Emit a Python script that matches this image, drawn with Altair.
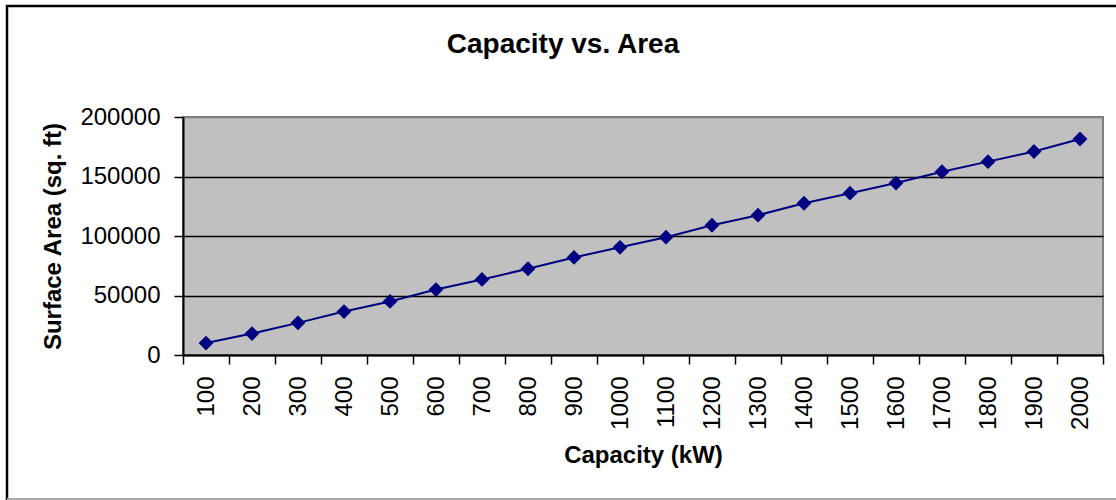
import altair as alt
import pandas as pd

# Plant capacity (kW) against required surface area (sq. ft)
capacity = [100, 200, 300, 400, 500, 600, 700, 800, 900, 1000,
            1100, 1200, 1300, 1400, 1500, 1600, 1700, 1800, 1900, 2000]
area = [10000, 18000, 27000, 36500, 45000, 55000, 63500, 72500, 82000, 90500,
        99000, 109000, 117500, 127500, 136000, 144500, 154000, 162500, 171000, 181500]
y_ticks = [0, 50000, 100000, 150000, 200000]

df = pd.DataFrame({"capacity": capacity, "area": area})

FONT = "Liberation Sans"
NAVY = "#000080"

x_enc = alt.X(
    "capacity:O",
    title="Capacity (kW)",
    bandPosition=0.5,
    scale=alt.Scale(type="band", paddingInner=0, paddingOuter=0),
    axis=alt.Axis(
        tickBand="extent",
        labelAngle=270,
        labelFont=FONT,
        labelFontSize=24,
        labelColor="black",
        labelPadding=12,
        tickColor="black",
        tickSize=9,
        tickWidth=1.5,
        domainColor="black",
        domainWidth=2,
        titleFont=FONT,
        titleFontSize=24,
        titleFontWeight="bold",
        titleColor="black",
        titlePadding=14,
        grid=False,
    ),
)

y_enc = alt.Y(
    "area:Q",
    title="Surface Area (sq. ft)",
    scale=alt.Scale(domain=[0, 200000], nice=False),
    axis=alt.Axis(
        values=y_ticks,
        format="d",
        labelFont=FONT,
        labelFontSize=24,
        labelColor="black",
        labelPadding=14,
        tickColor="black",
        tickSize=9,
        tickWidth=1.5,
        domainColor="black",
        domainWidth=2,
        grid=True,
        gridColor=alt.condition(
            "datum.value >= 200000", alt.value("#808080"), alt.value("black")
        ),
        gridWidth=1.5,
        titleFont=FONT,
        titleFontSize=24,
        titleFontWeight="bold",
        titleColor="black",
        titlePadding=14,
    ),
)

series = alt.Chart(df).mark_line(
    color=NAVY,
    strokeWidth=2,
    point=alt.OverlayMarkDef(shape="diamond", size=220, filled=True, color=NAVY),
).encode(x=x_enc, y=y_enc)

# Outer chart frame and its lower edge
frame_src = pd.DataFrame({"k": [0]})
frame = alt.Chart(frame_src).mark_rect(
    fill="white", fillOpacity=0, stroke="black", strokeWidth=2.5
).encode(
    x=alt.value(-176), x2=alt.value(950), y=alt.value(-111), y2=alt.value(400)
)
bottom_edge = alt.Chart(frame_src).mark_rule(color="#a8a8a8", strokeWidth=2).encode(
    x=alt.value(-176), x2=alt.value(940), y=alt.value(382)
)

chart = (
    alt.layer(frame, bottom_edge, series)
    .properties(
        width=920,
        height=238,
        autosize=alt.AutoSizeParams(type="none"),
        padding={"left": 183, "top": 117, "right": 13, "bottom": 145},
        background="white",
        title=alt.TitleParams(
            "Capacity vs. Area",
            font=FONT,
            fontSize=28,
            fontWeight="bold",
            color="black",
            anchor="middle",
            frame="group",
            baseline="alphabetic",
            dx=-80,
            offset=-76,
        ),
    )
    .configure_view(fill="#C0C0C0", stroke="#808080", strokeWidth=2)
)

chart.save("out.html", embed_options={"renderer": "svg", "actions": False})
